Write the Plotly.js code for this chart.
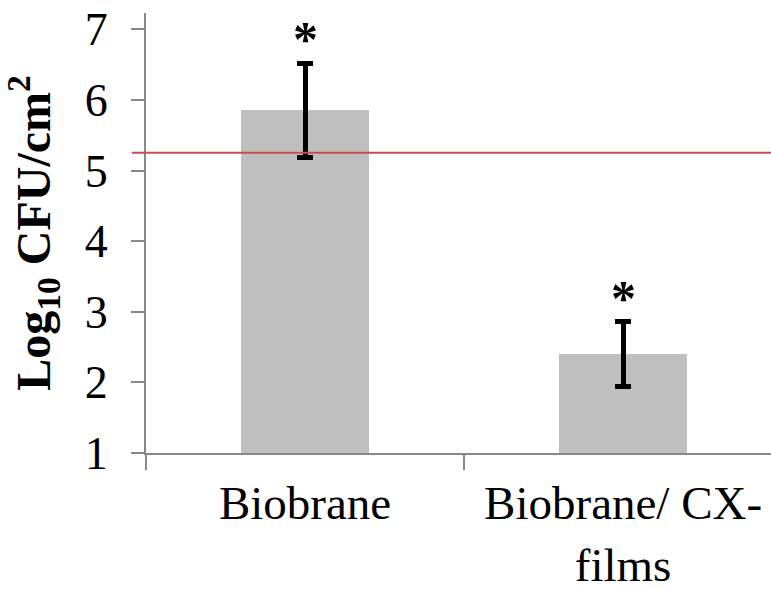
<!DOCTYPE html>
<html>
<head>
<meta charset="utf-8">
<script src="https://cdn.plot.ly/plotly-3.0.1.min.js"></script>
<style>
  html, body { margin: 0; padding: 0; background: #fff; overflow: hidden; }
  #chart { width: 771px; height: 589px; }
</style>
</head>
<body>
<div id="chart"></div>
<script>
// Bacterial load on each dressing (log10 CFU per cm²)
const categories = ["Biobrane", "Biobrane/ CX-<br>films"];
const meanLogCFU = [5.85, 2.40];
const errLogCFU = [0.67, 0.46];
const significance = ["*", "*"];
const thresholdLogCFU = 5.25;
const yTickValues = [1, 2, 3, 4, 5, 6, 7];

const serif = '"Liberation Serif", "Times New Roman", serif';
const axisGrey = '#888888';

const bars = {
  type: 'bar',
  x: categories,
  y: meanLogCFU,
  width: 0.4,
  marker: { color: '#bfbfbf', line: { width: 0 } },
  error_y: {
    type: 'data',
    array: errLogCFU,
    visible: true,
    color: '#000000',
    thickness: 5,
    width: 8
  },
  hoverinfo: 'skip',
  showlegend: false
};

const layout = {
  width: 771,
  height: 589,
  margin: { l: 146, r: 0, t: 13, b: 136 },
  paper_bgcolor: '#ffffff',
  plot_bgcolor: '#ffffff',
  font: { family: serif, color: '#000000' },
  bargap: 0,
  xaxis: {
    type: 'category',
    range: [-0.5, 1.465],
    tickson: 'boundaries',
    ticks: 'outside',
    ticklen: 15,
    tickwidth: 2,
    tickcolor: axisGrey,
    showline: true,
    linecolor: axisGrey,
    linewidth: 2,
    showgrid: false,
    zeroline: false,
    tickfont: { family: serif, size: 47, color: '#000000' },
    ticklabelstandoff: 8
  },
  yaxis: {
    range: [1, 7.23],
    tickmode: 'array',
    tickvals: yTickValues,
    ticks: 'outside',
    ticklen: 13,
    tickwidth: 2,
    tickcolor: axisGrey,
    showline: true,
    linecolor: axisGrey,
    linewidth: 2,
    showgrid: false,
    zeroline: false,
    tickfont: { family: serif, size: 46, color: '#000000' },
    ticklabelstandoff: 14,
    title: {
      text: '<b>Log<sub>10</sub> CFU/cm<sup>2</sup></b>',
      font: { family: serif, size: 48, color: '#000000' },
      standoff: 20
    }
  },
  shapes: [{
    type: 'line',
    xref: 'paper', yref: 'y',
    x0: -0.0224, x1: 1,
    y0: thresholdLogCFU, y1: thresholdLogCFU,
    line: { color: '#c0504d', width: 2 },
    layer: 'above'
  }],
  annotations: significance.map((s, i) => ({
    x: i,
    y: meanLogCFU[i] + errLogCFU[i],
    xref: 'x', yref: 'y',
    text: '<b>' + s + '</b>',
    showarrow: false,
    yanchor: 'bottom',
    yshift: -6,
    font: { family: serif, size: 50, color: '#000000' }
  }))
};

Plotly.newPlot('chart', [bars], layout, { displayModeBar: false, staticPlot: true });
</script>
</body>
</html>
